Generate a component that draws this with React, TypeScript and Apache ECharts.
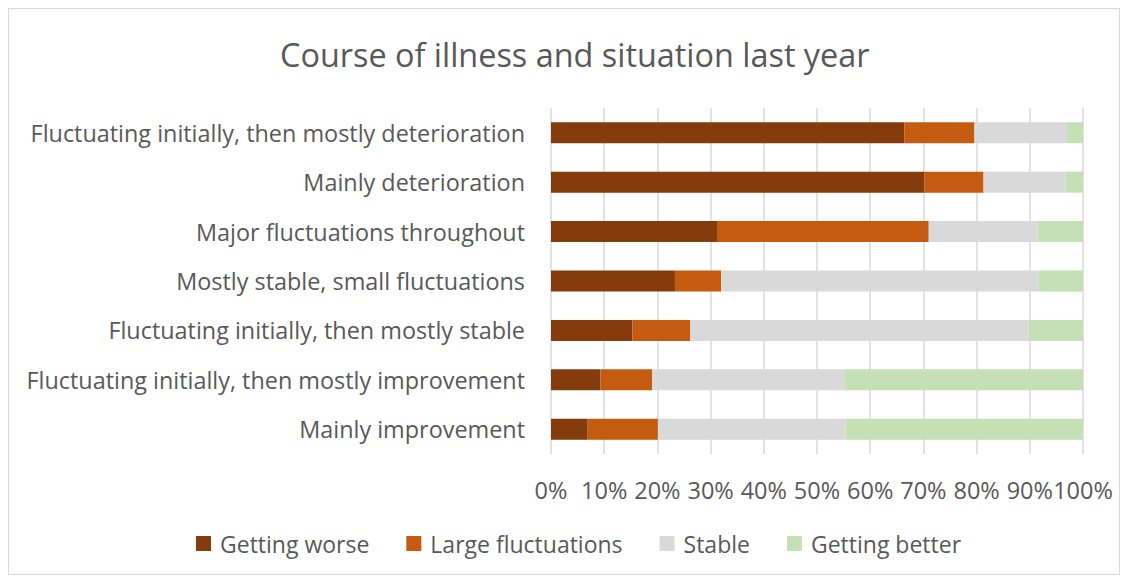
import React, { useEffect, useRef } from "react";
import * as echarts from "echarts";

const categories = [
  "Fluctuating initially, then mostly deterioration",
  "Mainly deterioration",
  "Major fluctuations throughout",
  "Mostly stable, small fluctuations",
  "Fluctuating initially, then mostly stable",
  "Fluctuating initially, then mostly improvement",
  "Mainly improvement",
];
const seriesNames = ["Getting worse", "Large fluctuations", "Stable", "Getting better"];
const gettingWorse = [66.4, 70.2, 31.2, 23.3, 15.3, 9.3, 6.9];
const largeFluctuations = [13.2, 11.1, 39.8, 8.7, 10.9, 9.7, 13.2];
const stable = [17.4, 15.4, 20.5, 59.7, 63.6, 36.1, 35.3];
const gettingBetter = [3.0, 3.3, 8.5, 8.3, 10.2, 44.9, 44.6];
const colors = ["#843C0C", "#C55A11", "#D9D9D9", "#C5E0B4"];
const xTicks = { min: 0, max: 100, interval: 10 };

const FONT = "Open Sans";
const TEXT = "#595959";

export default function App() {
  const ref = useRef<HTMLDivElement>(null);
  useEffect(() => {
    if (!ref.current) return;
    const chart = echarts.init(ref.current, undefined, { renderer: "svg" });
    const values = [gettingWorse, largeFluctuations, stable, gettingBetter];
    chart.setOption({
      animation: false,
      title: {
        text: "Course of illness and situation last year",
        left: 266,
        top: 24,
        textStyle: { fontFamily: FONT, fontSize: 32.4, fontWeight: "normal", color: TEXT },
      },
      legend: {
        bottom: 14,
        left: 182,
        itemWidth: 15,
        itemHeight: 15,
        itemGap: 37,
        icon: "rect",
        textStyle: { fontFamily: FONT, fontSize: 23, color: TEXT, padding: [0, 0, 0, 4] },
        data: seriesNames,
      },
      grid: { left: 542, right: 36, top: 99, bottom: 120, containLabel: false },
      xAxis: {
        type: "value",
        min: xTicks.min,
        max: xTicks.max,
        interval: xTicks.interval,
        axisLabel: {
          formatter: "{value}%",
          fontFamily: FONT,
          fontSize: 23.5,
          color: TEXT,
          margin: 24,
        },
        axisLine: { show: false },
        axisTick: { show: false },
        splitLine: { show: true, lineStyle: { color: "#D9D9D9", width: 1.5 } },
      },
      yAxis: {
        type: "category",
        data: categories,
        inverse: true,
        axisLabel: { fontFamily: FONT, fontSize: 23.4, color: TEXT, margin: 26 },
        axisLine: { show: false },
        axisTick: { show: false },
        splitLine: { show: false },
      },
      series: seriesNames.map((name, i) => ({
        name,
        type: "bar",
        stack: "total",
        barWidth: 21,
        data: values[i],
        itemStyle: { color: colors[i] },
      })),
    });
    return () => chart.dispose();
  }, []);
  return (
    <div
      ref={ref}
      style={{ width: 1110, height: 565, border: "1px solid #D9D9D9", background: "#fff" }}
    />
  );
}
